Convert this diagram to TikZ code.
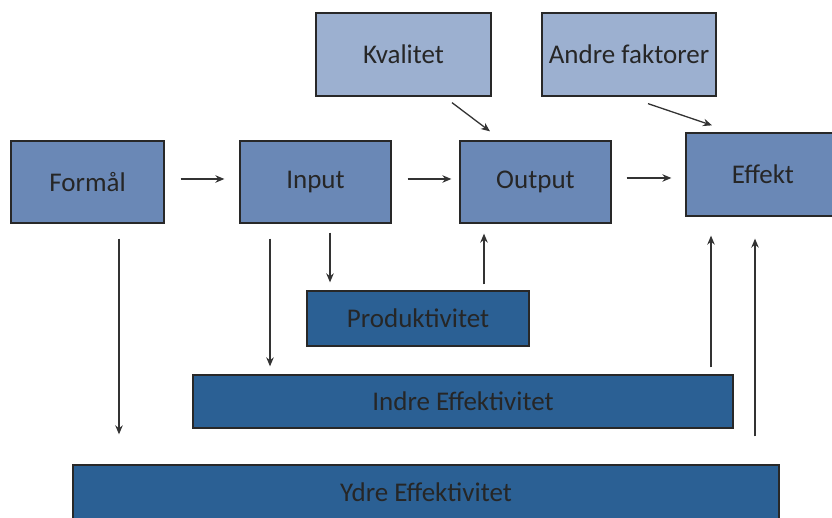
\documentclass[tikz,border=0pt]{standalone}
\usepackage{fontspec}
\setmainfont{Carlito}
\usepackage{xcolor}
\usepackage{tikz}
\usetikzlibrary{arrows.meta}
\definecolor{midblue}{RGB}{106,136,182}
\definecolor{lightblue}{RGB}{156,176,208}
\definecolor{darkblue}{RGB}{43,96,148}
\definecolor{edgegray}{RGB}{40,40,40}
\tikzset{
    box/.style={draw=edgegray, line width=1.3pt, text=black!85, font=\fontsize{27}{32}\selectfont, inner sep=0pt},
    mainbox/.style={box, fill=midblue, minimum height=82pt},
    topbox/.style={box, fill=lightblue, minimum height=83pt},
    effbox/.style={box, fill=darkblue, minimum height=54pt},
    arr/.style={-{Stealth[length=9pt,width=7.5pt]}, line width=1.3pt, draw=black!80}
}
\begin{document}
\begin{tikzpicture}[x=1pt, y=-1pt]
\useasboundingbox (0,0) rectangle (832,518);
% Main chain
\node[mainbox, minimum width=153pt] (fm) at (87.5,182) {Formål};
\node[mainbox, minimum width=151pt] (in) at (315.5,182) {Input};
\node[mainbox, minimum width=151pt] (out) at (535.5,182) {Output};
\node[mainbox, minimum width=154pt, minimum height=83pt] (ef) at (763,174.5) {Effekt};

% Top factors
\node[topbox, minimum width=175pt] (kv) at (403.5,54.5) {Kvalitet};
\node[topbox, minimum width=174pt] (af) at (629,54.5) {Andre faktorer};

% Efficiency bars
\node[effbox, minimum width=222pt, minimum height=55pt] (pr) at (418,318.5) {Produktivitet};
\node[effbox, minimum width=540pt, minimum height=53pt] (ie) at (463,401.5) {Indre Effektivitet};
\node[effbox, minimum width=706pt] (yd) at (426,492) {Ydre Effektivitet};

% Horizontal arrows
\draw[arr, shorten <=16pt, shorten >=15pt] ([yshift=3]fm.east) -- ([yshift=3]in.west);
\draw[arr, shorten <=16pt, shorten >=8pt] ([yshift=3]in.east) -- ([yshift=3]out.west);
\coordinate (oute) at ([yshift=4]out.east);
\draw[arr, shorten <=15pt, shorten >=14pt] (oute) -- (oute -| ef.west);

% Diagonal arrows
\draw[arr] ([shift={(48.5,6)}]kv.south) -- ([shift={(-45.5,-9)}]out.north);
\draw[arr] ([shift={(19,7)}]af.south) -- ([shift={(-51,-7)}]ef.north);

% Downward arrows
\coordinate (fmd) at ([xshift=31.5]fm.south);
\coordinate (ind1) at ([xshift=14.5]in.south);
\coordinate (ind2) at ([xshift=-45.5]in.south);
\draw[arr, shorten <=9pt, shorten >=8pt] (ind1) -- (ind1 |- pr.north);
\draw[arr, shorten <=15pt, shorten >=8pt] (ind2) -- (ind2 |- ie.north);
\draw[arr, shorten <=15pt, shorten >=30pt] (fmd) -- (fmd |- yd.north);

% Upward arrows
\coordinate (outu) at ([xshift=-51.5]out.south);
\coordinate (efu1) at ([xshift=-52]ef.south);
\coordinate (efu2) at ([xshift=-8]ef.south);
\draw[arr, shorten <=6pt, shorten >=10pt] (outu |- pr.north) -- (outu);
\draw[arr, shorten <=7pt, shorten >=19pt] (efu1 |- ie.north) -- (efu1);
\draw[arr, shorten <=28pt, shorten >=22pt] (efu2 |- yd.north) -- (efu2);
\end{tikzpicture}
\end{document}
